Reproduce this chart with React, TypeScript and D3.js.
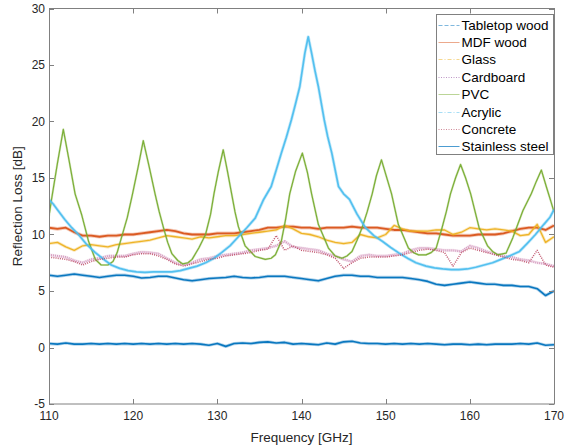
import React from "react";
import * as d3 from "d3";

// ---------- DATA ----------
// shared 1 GHz grid for the flat series
const gridFreq: number[] = d3.range(110, 171, 1);

const tabletopWood = [6.4, 6.3, 6.4, 6.5, 6.4, 6.3, 6.2, 6.3, 6.4, 6.4, 6.3, 6.15, 6.2, 6.3, 6.3, 6.15, 6.0, 5.9, 6.0, 6.1, 6.15, 6.2, 6.3, 6.2, 6.15, 6.2, 6.3, 6.3, 6.3, 6.2, 6.1, 6.0, 5.9, 6.1, 6.3, 6.4, 6.4, 6.3, 6.3, 6.2, 6.2, 6.2, 6.2, 6.1, 6.0, 5.85, 5.6, 5.5, 5.6, 5.7, 5.8, 5.7, 5.6, 5.6, 5.5, 5.5, 5.4, 5.4, 5.2, 4.6, 5.0];
const mdfWood = [10.6, 10.5, 10.6, 10.2, 9.9, 9.9, 9.8, 9.9, 9.9, 10.0, 10.0, 10.1, 10.2, 10.3, 10.4, 10.3, 10.1, 10.0, 10.0, 10.0, 10.1, 10.1, 10.1, 10.2, 10.3, 10.4, 10.6, 10.6, 10.7, 10.7, 10.6, 10.6, 10.5, 10.6, 10.6, 10.6, 10.7, 10.6, 10.6, 10.6, 10.5, 10.4, 10.4, 10.3, 10.2, 10.1, 10.1, 10.0, 9.9, 9.9, 9.9, 10.0, 10.0, 10.0, 10.1, 10.3, 10.5, 10.6, 10.6, 10.4, 10.8];
const glass = [9.2, 9.3, 8.9, 8.6, 9.0, 9.1, 9.0, 8.9, 9.1, 9.2, 9.3, 9.4, 9.5, 9.7, 9.9, 9.8, 9.7, 9.6, 9.8, 9.7, 9.8, 9.9, 9.9, 10.0, 10.1, 10.2, 10.3, 10.4, 10.8, 10.5, 10.1, 10.0, 9.8, 9.5, 9.3, 9.2, 9.3, 10.0, 9.8, 9.7, 10.0, 10.8, 10.5, 10.3, 10.3, 10.3, 10.4, 10.4, 10.0, 10.2, 10.6, 10.5, 10.4, 10.5, 10.4, 10.3, 9.9, 10.0, 10.9, 9.3, 9.8];
const cardboard = [8.2, 8.1, 8.0, 7.7, 7.5, 7.8, 7.9, 8.1, 8.1, 8.1, 8.3, 8.45, 8.4, 8.3, 7.9, 7.5, 7.3, 7.5, 7.8, 7.9, 8.1, 8.2, 8.3, 8.4, 8.6, 8.7, 8.8, 9.0, 9.4, 8.9, 8.8, 8.7, 8.6, 8.3, 8.1, 7.8, 7.6, 8.1, 8.2, 8.1, 8.1, 8.2, 8.3, 8.6, 8.8, 8.8, 8.7, 8.6, 8.6, 8.5, 9.0, 8.8, 8.5, 8.3, 8.1, 8.0, 7.8, 7.7, 7.5, 7.4, 7.2];
const concrete = [8.0, 7.9, 7.8, 7.6, 7.3, 7.6, 7.8, 7.9, 8.0, 8.0, 8.2, 8.3, 8.3, 8.1, 7.8, 7.4, 7.2, 7.4, 7.6, 7.8, 7.9, 8.1, 8.2, 8.3, 8.4, 8.6, 8.7, 9.9, 8.6, 9.0, 8.6, 8.5, 8.4, 8.2, 7.9, 7.0, 7.5, 7.9, 8.0, 8.0, 8.0, 8.1, 8.2, 8.4, 8.6, 8.7, 8.6, 8.4, 7.2, 8.4, 8.8, 8.6, 8.4, 8.2, 8.0, 7.8, 7.7, 7.5, 8.6, 7.3, 7.1];
const stainlessSteel = [0.35, 0.3, 0.4, 0.3, 0.3, 0.35, 0.3, 0.35, 0.3, 0.35, 0.3, 0.35, 0.3, 0.35, 0.3, 0.35, 0.3, 0.35, 0.3, 0.2, 0.35, 0.1, 0.35, 0.4, 0.35, 0.45, 0.5, 0.4, 0.45, 0.3, 0.35, 0.3, 0.25, 0.4, 0.3, 0.5, 0.55, 0.4, 0.35, 0.35, 0.3, 0.35, 0.3, 0.35, 0.3, 0.35, 0.3, 0.25, 0.3, 0.3, 0.25, 0.3, 0.25, 0.3, 0.3, 0.3, 0.35, 0.3, 0.4, 0.2, 0.25];

// PVC: Fabry-Perot like resonances
const pvcFreq = [110, 110.3, 111, 111.7, 112.4, 113.1, 113.9, 114.7, 115.5, 116.2, 117, 117.6, 118.1, 118.6, 119.3, 119.9, 120.6, 121.2, 121.9, 122.6, 123.1, 123.6, 124.1, 124.6, 125.3, 125.9, 126.5, 127, 127.8, 128.6, 129.2, 129.6, 130.1, 130.7, 131.2, 131.7, 132.1, 132.5, 133.3, 134.5, 135.7, 136.4, 136.9, 137.6, 138.1, 138.6, 139.3, 140.1, 140.7, 141.2, 142, 143.2, 144, 144.8, 145.4, 146, 146.6, 147.2, 147.8, 148.4, 148.9, 149.5, 150.1, 150.7, 151.5, 152.7, 153.3, 153.9, 154.8, 155.4, 156, 156.7, 157.2, 157.7, 158.3, 158.9, 159.5, 160.1, 161.1, 162.1, 162.7, 163.3, 164.3, 165.1, 165.7, 166.3, 167.3, 167.9, 168.5, 169.1, 169.6, 170];
const pvcVal = [11.6, 13.1, 16.3, 19.3, 16.5, 13.6, 11.7, 9.4, 7.8, 7.3, 7.3, 7.6, 8.4, 9.7, 11.5, 13.5, 16.0, 18.3, 16.0, 13.6, 12.0, 10.6, 9.3, 8.3, 7.7, 7.4, 7.5, 7.8, 8.8, 10.0, 11.8, 13.6, 15.5, 17.5, 15.6, 13.6, 12.0, 10.7, 9.0, 8.05, 7.8, 7.9, 8.2, 9.4, 11.3, 13.6, 15.6, 17.2, 15.5, 13.6, 10.9, 8.8, 8.1, 7.9, 8.1, 8.5, 9.5, 10.6, 12.0, 13.6, 15.2, 16.6, 15.1, 13.6, 10.9, 8.8, 8.4, 8.2, 8.2, 8.4, 8.8, 10.6, 12.0, 13.6, 15.0, 16.2, 15.0, 13.6, 10.6, 9.0, 8.5, 8.2, 8.35, 9.7, 10.9, 12.1, 13.6, 14.7, 15.7, 14.2, 13.0, 12.0];

// Acrylic: broad resonance at ~141 GHz
const acrylicFreq = [110, 110.5, 111, 111.9, 112.7, 113.5, 114.5, 115.5, 116.5, 117.4, 118.4, 119.4, 120.4, 121.4, 122.4, 123.4, 124.6, 125.6, 126.6, 127.6, 128.6, 129.6, 130.5, 131.5, 132.5, 133.5, 134.5, 135.5, 136.4, 137, 137.6, 138.2, 138.8, 139.3, 139.8, 140.4, 140.8, 141.2, 141.6, 142, 142.7, 143.1, 143.6, 144.4, 145, 145.7, 146.6, 147.6, 148.6, 149.6, 150.6, 151.6, 152.6, 153.6, 154.8, 155.8, 156.8, 157.8, 158.7, 159.7, 160.7, 161.7, 162.7, 163.7, 164.7, 165.9, 166.8, 167.8, 168.8, 169.5, 170];
const acrylicVal = [13.1, 12.7, 12.2, 11.3, 10.6, 10.0, 9.1, 8.4, 7.8, 7.3, 7.0, 6.8, 6.7, 6.65, 6.7, 6.7, 6.7, 6.8, 7.0, 7.2, 7.5, 7.9, 8.4, 9.0, 9.8, 10.6, 11.45, 13.1, 14.25, 15.7, 17.2, 18.6, 20.15, 21.6, 23.1, 26.05, 27.5, 26.05, 24.5, 23.1, 20.15, 18.7, 17.2, 14.25, 13.6, 13.1, 11.8, 10.6, 9.9, 9.4, 8.85, 8.35, 7.9, 7.5, 7.2, 7.05, 6.95, 6.9, 6.9, 6.95, 7.1, 7.3, 7.5, 7.8, 8.1, 8.5, 9.2, 10.0, 10.9, 11.5, 12.2];

const legendNames = ["Tabletop wood", "MDF wood", "Glass", "Cardboard", "PVC", "Acrylic", "Concrete", "Stainless steel"];
const seriesColors = ["#0072BD", "#D95319", "#EDB120", "#7E2F8E", "#77AC30", "#4DBEEE", "#A2142F", "#0072BD"];
const legendDash = ["4,2", "", "4,2,1,2", "1,1.5", "", "4,2,1,2", "1,1.5", ""];

const xTicks = [110, 120, 130, 140, 150, 160, 170];
const yTicks = [-5, 0, 5, 10, 15, 20, 25, 30];

// ---------- LAYOUT ----------
const W = 578, H = 447;
const L = 49, R = 554, T = 8.5, B = 404;
const FONT = "'Liberation Sans', Arial, Helvetica, sans-serif";
const TXT = "#262626";
const AX = "#808080";

export default function App() {
  const x = d3.scaleLinear().domain([110, 170]).range([L, R]);
  const y = d3.scaleLinear().domain([-5, 30]).range([B, T]);
  const line = d3.line<[number, number]>().x(d => x(d[0])).y(d => y(d[1]));

  const zipGrid = (vals: number[]) => gridFreq.map((f, i) => [f, vals[i]] as [number, number]);
  const zip = (fs: number[], vs: number[]) => fs.map((f, i) => [f, vs[i]] as [number, number]);

  const series = [
    { pts: zipGrid(tabletopWood), color: "#0072BD", w: 1.6, halo: 3.2, dash: "" },
    { pts: zipGrid(mdfWood), color: "#D95319", w: 1.8, halo: 3.6, dash: "" },
    { pts: zipGrid(glass), color: "#EDB120", w: 1.3, halo: 3.0, dash: "" },
    { pts: zipGrid(cardboard), color: "#D08FB8", w: 2.2, halo: 3.0, dash: "1,1" },
    { pts: zip(pvcFreq, pvcVal), color: "#77AC30", w: 1.2, halo: 2.2, dash: "" },
    { pts: zip(acrylicFreq, acrylicVal), color: "#4DBEEE", w: 1.7, halo: 3.2, dash: "" },
    { pts: zipGrid(concrete), color: "#B8405C", w: 1.5, halo: 0, dash: "1,1.2" },
    { pts: zipGrid(stainlessSteel), color: "#0072BD", w: 1.6, halo: 3.2, dash: "" },
  ];

  const legX = 436.5, legY = 14.5, legW = 117, rowH = 17.4;
  const legH = 140;

  return (
    <svg width={W} height={H} style={{ position: "absolute", left: 0, top: 0, background: "#fff" }} fontFamily={FONT}>
      <defs>
        <clipPath id="plot">
          <rect x={L} y={T} width={R - L} height={B - T} />
        </clipPath>
      </defs>
      <rect x={0} y={0} width={W} height={H} fill="#fff" />
      <g clipPath="url(#plot)">
        {series.map((s, i) => (
          <g key={i}>
            {s.halo > 0 && (
              <path d={line(s.pts) || ""} fill="none" stroke={s.color} strokeWidth={s.halo}
                strokeOpacity={s.dash ? 0.2 : 0.3} strokeLinejoin="round" />
            )}
            <path d={line(s.pts) || ""} fill="none" stroke={s.color} strokeWidth={s.w}
              strokeDasharray={s.dash || undefined} strokeOpacity={s.dash ? 0.85 : 0.95} strokeLinejoin="round" />
          </g>
        ))}
      </g>
      {/* box */}
      <rect x={L + 0.5} y={T} width={R - L} height={B - T} fill="none" stroke={AX} strokeWidth={1} />
      {/* x ticks */}
      {xTicks.map(t => (
        <g key={"x" + t}>
          <line x1={Math.round(x(t)) + 0.5} x2={Math.round(x(t)) + 0.5} y1={B} y2={B - 5} stroke={AX} />
          <line x1={Math.round(x(t)) + 0.5} x2={Math.round(x(t)) + 0.5} y1={T} y2={T + 5} stroke={AX} />
          <text x={x(t)} y={B + 16} textAnchor="middle" fontSize={12} fill={TXT}>{t}</text>
        </g>
      ))}
      {yTicks.map(t => (
        <g key={"y" + t}>
          <line x1={L} x2={L + 5} y1={Math.round(y(t)) + 0.5} y2={Math.round(y(t)) + 0.5} stroke={AX} />
          <line x1={R} x2={R - 5} y1={Math.round(y(t)) + 0.5} y2={Math.round(y(t)) + 0.5} stroke={AX} />
          <text x={L - 4} y={y(t) + 4} textAnchor="end" fontSize={12} fill={TXT}>{t}</text>
        </g>
      ))}
      <text x={(L + R) / 2} y={442} textAnchor="middle" fontSize={13.5} fill={TXT}>Frequency [GHz]</text>
      <text transform={`translate(22,${(T + B) / 2}) rotate(-90)`} textAnchor="middle" fontSize={13.5} fill={TXT}>Reflection Loss [dB]</text>
      {/* legend */}
      <rect x={legX} y={legY} width={legW} height={legH} fill="#fff" stroke={AX} strokeWidth={1} />
      {legendNames.map((n, i) => {
        const cy = Math.round(legY + 10 + i * rowH) + 0.5;
        return (
          <g key={n}>
            <line x1={legX + 2} x2={legX + 23} y1={cy} y2={cy} stroke={seriesColors[i]}
              strokeOpacity={i === 7 ? 0.7 : 0.5}
              strokeWidth={1} strokeDasharray={legendDash[i] || undefined} />
            <text x={legX + 25} y={cy + 4.5} fontSize={13.5} fill="#000">{n}</text>
          </g>
        );
      })}
    </svg>
  );
}
